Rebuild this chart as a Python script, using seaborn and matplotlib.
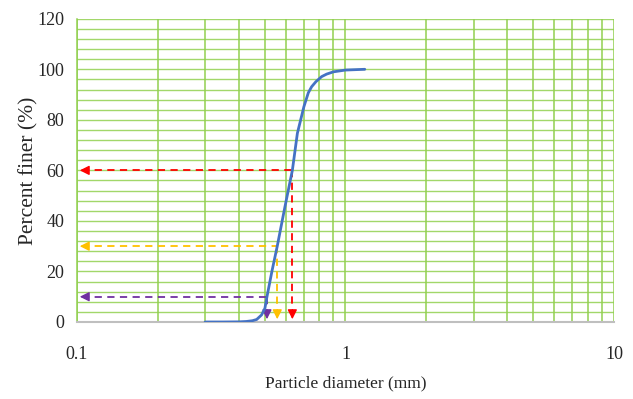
import matplotlib
matplotlib.use("Agg")
import matplotlib.pyplot as plt
from matplotlib.ticker import FixedLocator, NullFormatter
import seaborn as sns
import pandas as pd
import numpy as np

# grain size curve
diameter = [0.30, 0.35, 0.40, 0.427, 0.450, 0.467, 0.487, 0.501, 0.510, 0.532,
            0.557, 0.595, 0.634, 0.662, 0.700, 0.727, 0.748, 0.776, 0.815,
            0.851, 0.902, 1.00, 1.18]
finer = [0, 0, 0.05, 0.2, 0.5, 1.0, 2.8, 5.4, 10, 20,
         30, 45.6, 60, 74.7, 85.2, 90.7, 93.1, 95.1, 97.1,
         98.1, 99.0, 99.7, 100]

# D10, D30, D60 markers
d_values = [0.510, 0.557, 0.634]
d_percent = [10, 30, 60]
d_colors = ["#7030A0", "#FFC000", "#FF0000"]

x_ticks = [0.1, 1, 10]
x_labels = ["0.1", "1", "10"]
y_ticks = [0, 20, 40, 60, 80, 100, 120]

sns.set_style("white")
plt.rcParams["font.family"] = ["Liberation Serif", "DejaVu Serif"]

df = pd.DataFrame({"d": diameter, "p": finer})

fig, ax = plt.subplots(figsize=(6.33, 3.99), dpi=100)
fig.subplots_adjust(left=0.1216, right=0.970, top=0.953, bottom=0.193)

ax.set_xscale("log")
ax.set_xlim(0.1, 10)
ax.set_ylim(0, 120)

grid_green = "#92D050"
minor_x = [m * 10.0 ** e for e in (-1, 0) for m in range(1, 10)] + [10]
ax.xaxis.set_minor_locator(FixedLocator(minor_x))
ax.xaxis.set_minor_formatter(NullFormatter())
ax.yaxis.set_minor_locator(FixedLocator(np.arange(0, 121, 4)))
ax.grid(True, which="both", axis="x", color=grid_green, lw=1.1)
ax.grid(True, which="both", axis="y", color=grid_green, lw=1.0, alpha=0.85)
ax.set_axisbelow(True)

for side in ["top", "right"]:
    ax.spines[side].set_visible(False)
ax.spines["left"].set_color(grid_green)
ax.spines["left"].set_linewidth(1.1)
ax.spines["bottom"].set_color("#BFBFBF")
ax.spines["bottom"].set_linewidth(1.5)

for dv, pv, c in zip(d_values, d_percent, d_colors):
    ax.plot([0.104, dv], [pv, pv], color=c, lw=1.3, ls=(0, (4, 3)), zorder=3)
    ax.plot([dv, dv], [pv, 5], color=c, lw=1.3, ls=(0, (4, 3)), zorder=3)
    ax.annotate("", xy=(0.1, pv), xytext=(0.109, pv),
                arrowprops=dict(arrowstyle="-|>", color=c, lw=1, mutation_scale=14),
                zorder=4)
    ax.annotate("", xy=(dv, 0), xytext=(dv, 6),
                arrowprops=dict(arrowstyle="-|>", color=c, lw=1, mutation_scale=14),
                zorder=4)

sns.lineplot(data=df, x="d", y="p", color="#4472C4", lw=2, ax=ax, zorder=5)

ax.set_xticks(x_ticks)
ax.set_xticklabels(x_labels)
ax.set_yticks(y_ticks)
ax.tick_params(axis="x", which="both", length=0, pad=17, labelsize=13)
ax.tick_params(axis="y", which="both", length=0, pad=9, labelsize=13)

ax.set_xlabel("Particle diameter (mm)", fontsize=12.5, labelpad=9)
ax.set_ylabel("Percent finer (%)", fontsize=15.5, labelpad=-1)

fig.savefig("out.png", dpi=100)
